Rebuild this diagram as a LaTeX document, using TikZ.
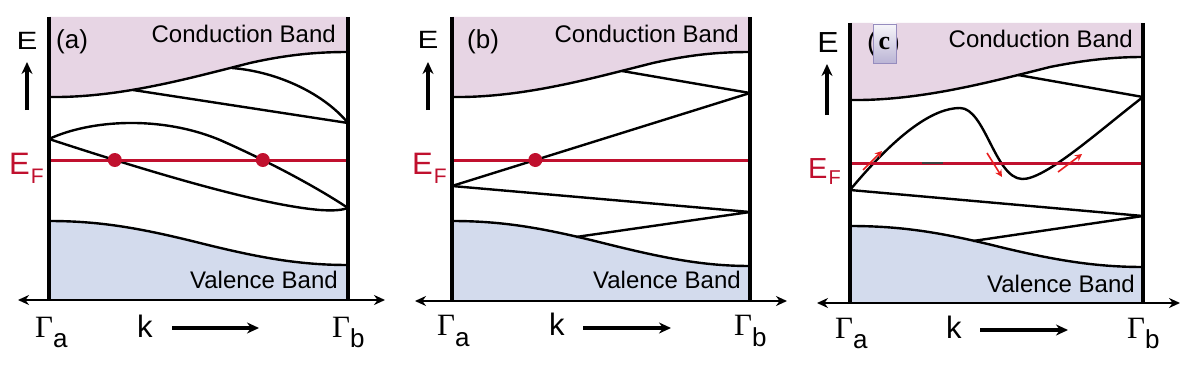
\documentclass[tikz,border=0pt]{standalone}
\usepackage{fontspec}
\setmainfont{Liberation Sans}
\newfontfamily\grkfont{Liberation Serif}
\usetikzlibrary{arrows.meta,intersections}
\newcommand\myfs[1]{\fontsize{#1}{#1}\selectfont}
\definecolor{cbpink}{RGB}{231,213,228}
\definecolor{vbblue}{RGB}{211,219,237}
\definecolor{efred}{RGB}{192,16,46}
\definecolor{arrred}{RGB}{232,30,30}
\definecolor{boxedge}{RGB}{150,140,190}
\begin{document}
\begin{tikzpicture}[x=1pt,y=-1pt,
  frame/.style={line width=3.5pt},
  bandline/.style={line width=2.4pt, line join=round},
  fermi/.style={line width=3pt, draw=efred},
  fdot/.style={circle, fill=efred, inner sep=0pt, minimum size=14pt},
  axis/.style={line width=2.4pt, {Stealth[length=11pt,width=10pt]}-{Stealth[length=11pt,width=10pt]}},
  earrow/.style={line width=3.8pt, -{Stealth[length=12pt,width=11pt]}},
  karrow/.style={line width=3.2pt, -{Stealth[length=12pt,width=11pt]}},
  redarr/.style={draw=arrred, line width=1.6pt, -{Stealth[length=7pt,width=7pt]}},
  txt/.style={inner sep=0pt},
  elbl/.style={inner sep=0pt, anchor=base},
  panlbl/.style={inner sep=0pt, anchor=base west},
  eflbl/.style={inner sep=0pt, anchor=base west, text=efred},
  gam/.style={inner sep=0pt, anchor=base west},
  klbl/.style={inner sep=0pt, anchor=base west}
]
\fill[white] (0,0) rectangle (1200,369);
\useasboundingbox (0,0) rectangle (1200,369);

%%%%%%%%%%%%%%%% Panel (a)
\fill[cbpink] (49,17) -- (49,97) .. controls (120,98) and (190,78) .. (250,63) .. controls (290,54) and (320,52) .. (348,52) -- (348,17) -- cycle;
\draw[bandline] (49,97) .. controls (120,98) and (190,78) .. (250,63) .. controls (290,54) and (320,52) .. (348,52);
\fill[vbblue] (49,300) -- (49,221) .. controls (100,221) and (140,228) .. (200,243) .. controls (260,258) and (300,265) .. (348,265) -- (348,300) -- cycle;
\draw[bandline] (49,221) .. controls (100,221) and (140,228) .. (200,243) .. controls (260,258) and (300,265) .. (348,265);
\coordinate (a1) at (133,90);
\coordinate (a2) at (232,68);
\coordinate (a3) at (348,123);
\coordinate (a4) at (49,139);
\coordinate (a5) at (348,208);
\draw[bandline] (a1) -- (a3);
\draw[bandline] (a2) .. controls (280,72) and (325,95) .. (a3);
\draw[bandline, name path=aup] (a4) .. controls (90,120) and (160,115) .. (220,140) .. controls (270,162) and (318,188) .. (a5);
\draw[bandline, name path=alow] (a4) .. controls (150,172) and (260,205) .. (320,210) .. controls (335,211) and (342,210) .. (a5);
\draw[fermi, name path=aef] (49,160) -- (348,160);
\path[name intersections={of=aef and alow, by=ia1}];
\path[name intersections={of=aef and aup, by=ia2}];
\node[fdot] (dotA1) at (ia1) {};
\node[fdot] (dotA2) at (ia2) {};
\draw[frame] (49,17) -- (49,300);
\draw[frame] (348,17) -- (348,300);
\draw[axis] (18,300) -- (385,300);
\node[txt, anchor=base east] (cbA) at (336,43) {\myfs{24}Conduction Band};
\node[txt, anchor=base east] (vbA) at (338,288) {\myfs{24}Valence Band};
\node[elbl] (eA) at (27,50) {\scalebox{1.25}[1]{\myfs{25}E}};
\coordinate (eAs) at (27,110); \coordinate (eAt) at (27,62);
\draw[earrow] (eAs) -- (eAt);
\node[panlbl] (labA) at (56,49) {\myfs{26}(a)};
\node[eflbl] (efA) at (9,174) {\myfs{31}E\kern1pt\raisebox{-9pt}{\myfs{21}F}};
\node[gam] (gaA) at (35,337) {{\grkfont\myfs{31}Γ}\raisebox{-10pt}{\myfs{26}a}};
\node[gam] (gbA) at (332,337) {{\grkfont\myfs{31}Γ}\raisebox{-10pt}{\myfs{26}b}};
\node[klbl] (kA) at (137,337) {\myfs{31}k};
\coordinate (kAs) at (172,328); \coordinate (kAt) at (259,328);
\draw[karrow] (kAs) -- (kAt);

%%%%%%%%%%%%%%%% Panel (b)
\fill[cbpink] (452,17) -- (452,97) .. controls (523,98) and (593,78) .. (653,63) .. controls (693,54) and (722,52) .. (750,52) -- (750,17) -- cycle;
\draw[bandline] (452,97) .. controls (523,98) and (593,78) .. (653,63) .. controls (693,54) and (722,52) .. (750,52);
\fill[vbblue] (452,301) -- (452,221) .. controls (503,221) and (543,228) .. (603,243) .. controls (663,258) and (703,266) .. (750,266) -- (750,301) -- cycle;
\draw[bandline] (452,221) .. controls (503,221) and (543,228) .. (603,243) .. controls (663,258) and (703,266) .. (750,266);
\coordinate (b1) at (622,71);
\coordinate (b2) at (750,93);
\coordinate (b3) at (452,186);
\coordinate (b4) at (750,212);
\coordinate (b5) at (576,237);
\draw[bandline] (b1) -- (b2);
\draw[bandline, name path=bmid] (b2) -- (b3);
\draw[bandline] (b3) -- (b4) -- (b5);
\draw[fermi, name path=bef] (452,160) -- (750,160);
\path[name intersections={of=bef and bmid, by=ib1}];
\node[fdot] (dotB1) at (ib1) {};
\draw[frame] (452,17) -- (452,301);
\draw[frame] (750,17) -- (750,301);
\draw[axis] (415,301) -- (787,301);
\node[txt, anchor=base east] (cbB) at (739,43) {\myfs{24}Conduction Band};
\node[txt, anchor=base east] (vbB) at (741,288) {\myfs{24}Valence Band};
\node[elbl] (eB) at (428,49) {\scalebox{1.25}[1]{\myfs{25}E}};
\coordinate (eBs) at (428,110); \coordinate (eBt) at (428,62);
\draw[earrow] (eBs) -- (eBt);
\node[panlbl] (labB) at (467,49) {\myfs{26}(b)};
\node[eflbl] (efB) at (412,174) {\myfs{31}E\kern1pt\raisebox{-9pt}{\myfs{21}F}};
\node[gam] (gaB) at (437,335) {{\grkfont\myfs{31}Γ}\raisebox{-11pt}{\myfs{26}a}};
\node[gam] (gbB) at (734,335) {{\grkfont\myfs{31}Γ}\raisebox{-11pt}{\myfs{26}b}};
\node[klbl] (kB) at (549,335) {\myfs{31}k};
\coordinate (kBs) at (583,328); \coordinate (kBt) at (671,328);
\draw[karrow] (kBs) -- (kBt);

%%%%%%%%%%%%%%%% Panel (c)
\fill[cbpink] (850,23) -- (850,100) .. controls (920,101) and (990,82) .. (1050,67) .. controls (1090,59) and (1118,57) .. (1143,57) -- (1143,23) -- cycle;
\draw[bandline] (850,100) .. controls (920,101) and (990,82) .. (1050,67) .. controls (1090,59) and (1118,57) .. (1143,57);
\fill[vbblue] (850,303) -- (850,226) .. controls (900,226) and (940,232) .. (1000,247) .. controls (1058,261) and (1098,267) .. (1143,267) -- (1143,303) -- cycle;
\draw[bandline] (850,226) .. controls (900,226) and (940,232) .. (1000,247) .. controls (1058,261) and (1098,267) .. (1143,267);
\coordinate (c1) at (1018,75);
\coordinate (c2) at (1143,97);
\coordinate (c3) at (850,190);
\coordinate (c4) at (1143,216);
\coordinate (c5) at (973,241);
\draw[bandline] (c1) -- (c2);
\draw[bandline] (c3) .. controls (900,130) and (935,108) .. (960,108) .. controls (985,108) and (995,178) .. (1022,179) .. controls (1045,180) and (1100,130) .. (c2);
\draw[bandline] (c3) -- (c4) -- (c5);
\draw[fermi] (850,163) -- (1143,163);
\draw[line width=2pt, draw=black!75] (922,163) -- (943,163);
\coordinate (r1s) at (863,170); \coordinate (r1t) at (882,151);
\coordinate (r2s) at (987,153); \coordinate (r2t) at (1002,177);
\coordinate (r3s) at (1058,172); \coordinate (r3t) at (1082,154);
\draw[redarr] (r1s) -- (r1t);
\draw[redarr] (r2s) -- (r2t);
\draw[redarr] (r3s) -- (r3t);
\draw[frame] (850,23) -- (850,303);
\draw[frame] (1143,23) -- (1143,303);
\draw[axis] (817,303) -- (1180,303);
\node[txt, anchor=base east] (cbC) at (1133,48) {\myfs{24}Conduction Band};
\node[txt, anchor=base east] (vbC) at (1135,292) {\myfs{24}Valence Band};
\node[elbl] (eC) at (828,53) {\scalebox{1.1}[1]{\myfs{29}E}};
\coordinate (eCs) at (827,115); \coordinate (eCt) at (827,64);
\draw[earrow] (eCs) -- (eCt);
\node[panlbl] (labC) at (867,52) {\myfs{28}(c)};
\node[draw=boxedge, line width=0.6pt, top color=white!92!boxedge, bottom color=boxedge!65, minimum width=23pt, minimum height=39pt, inner sep=0pt] (boxC) at (884.5,43.5) {\grkfont\bfseries\myfs{26}c};
\node[eflbl] (efC) at (808,178) {\myfs{29}E\kern1pt\raisebox{-6pt}{\myfs{20}F}};
\node[gam] (gaC) at (835,338) {{\grkfont\myfs{31}Γ}\raisebox{-10pt}{\myfs{26}a}};
\node[gam] (gbC) at (1127,338) {{\grkfont\myfs{31}Γ}\raisebox{-10pt}{\myfs{26}b}};
\node[klbl] (kC) at (946,338) {\myfs{31}k};
\coordinate (kCs) at (980,330); \coordinate (kCt) at (1068,330);
\draw[karrow] (kCs) -- (kCt);
\end{tikzpicture}
\end{document}
